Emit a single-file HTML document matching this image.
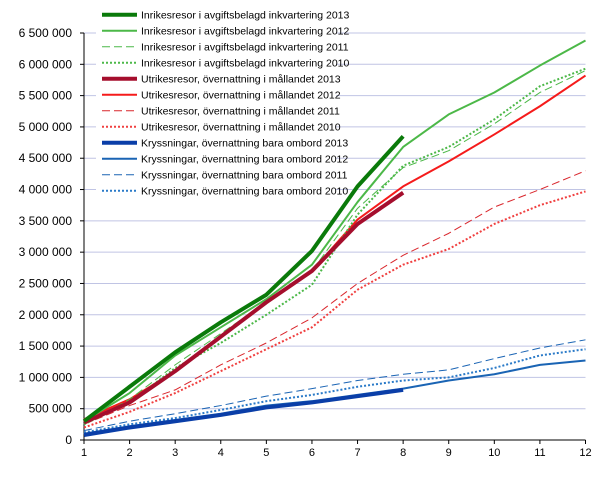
<!DOCTYPE html>
<html><head><meta charset="utf-8"><style>
body{margin:0;background:#fff;}
svg{display:block;font-family:"Liberation Sans",sans-serif;}
</style></head><body>
<svg id="chart" width="614" height="481"></svg>
<script>
const months=[1,2,3,4,5,6,7,8,9,10,11,12];
const yTicks=[0,500000,1000000,1500000,2000000,2500000,3000000,3500000,4000000,4500000,5000000,5500000,6000000,6500000];
const names=["Inrikesresor i avgiftsbelagd inkvartering 2013","Inrikesresor i avgiftsbelagd inkvartering 2012","Inrikesresor i avgiftsbelagd inkvartering 2011","Inrikesresor i avgiftsbelagd inkvartering 2010","Utrikesresor, övernattning i mållandet 2013","Utrikesresor, övernattning i mållandet 2012","Utrikesresor, övernattning i mållandet 2011","Utrikesresor, övernattning i mållandet 2010","Kryssningar, övernattning bara  ombord 2013","Kryssningar, övernattning bara  ombord 2012","Kryssningar, övernattning bara  ombord 2011","Kryssningar, övernattning bara  ombord 2010"];
const inr2013=[0.30,0.85,1.40,1.88,2.32,3.02,4.05,4.85];
const inr2012=[0.30,0.75,1.35,1.80,2.25,2.80,3.80,4.68,5.20,5.55,5.98,6.38];
const inr2011=[0.25,0.65,1.20,1.70,2.20,2.70,3.70,4.35,4.62,5.05,5.55,5.90];
const inr2010=[0.25,0.60,1.15,1.55,2.00,2.48,3.60,4.38,4.68,5.12,5.65,5.93];
const utr2013=[0.28,0.60,1.10,1.65,2.20,2.70,3.45,3.95];
const utr2012=[0.33,0.65,1.10,1.65,2.20,2.70,3.52,4.05,4.45,4.88,5.33,5.82];
const utr2011=[0.25,0.55,0.80,1.20,1.55,1.95,2.50,2.95,3.30,3.72,4.00,4.30];
const utr2010=[0.20,0.45,0.75,1.10,1.45,1.80,2.40,2.80,3.05,3.45,3.75,3.97];
const kry2013=[0.08,0.20,0.30,0.40,0.52,0.60,0.70,0.80];
const kry2012=[0.10,0.22,0.32,0.42,0.55,0.62,0.72,0.82,0.95,1.05,1.20,1.27];
const kry2011=[0.15,0.30,0.42,0.55,0.70,0.82,0.95,1.05,1.12,1.30,1.47,1.60];
const kry2010=[0.12,0.25,0.35,0.48,0.62,0.72,0.85,0.95,1.00,1.15,1.35,1.45];
const series=[inr2013,inr2012,inr2011,inr2010,utr2013,utr2012,utr2011,utr2010,kry2013,kry2012,kry2011,kry2010];
const styles=[
 {c:"#0a7a0a",w:4,d:""},{c:"#4cb848",w:2,d:""},{c:"#4cb848",w:1,d:"8,4"},{c:"#4cb848",w:2,d:"2,2"},
 {c:"#a50e2d",w:4,d:""},{c:"#f51b1b",w:2,d:""},{c:"#d9262c",w:1,d:"8,4"},{c:"#f04040",w:2,d:"2,2"},
 {c:"#0a3ea8",w:4,d:""},{c:"#1a64b4",w:2,d:""},{c:"#1a64b4",w:1,d:"8,4"},{c:"#2a7ac8",w:2,d:"2,2"}];
const X0=84,X1=585.5,Y0=440,Y1=33,YMAX=6500000;
const xs=m=>X0+(m-1)*(X1-X0)/11;
const ys=v=>Y0-v/YMAX*(Y0-Y1);
const svg=document.getElementById('chart');
const NS="http://www.w3.org/2000/svg";
function mk(t,a){const e=document.createElementNS(NS,t);for(const k in a)e.setAttribute(k,a[k]);svg.appendChild(e);return e;}
yTicks.forEach(v=>{
 const y=ys(v);
 if(v>0){const g=mk('line',{x1:X0,x2:X1,y1:y,y2:y,stroke:'#c0c4e4','stroke-width':1});
 
 }
 const tk=mk('line',{x1:X0-4,x2:X0,y1:y,y2:y,stroke:'#000'});
 
 
 const t=mk('text',{x:72,y:y+4,'text-anchor':'end','font-size':12,fill:'#000'});
 t.textContent=v.toLocaleString('en-US').replace(/,/g,' ');
 
 
});
months.forEach(m=>{
 const x=xs(m);
 const tk=mk('line',{x1:x,x2:x,y1:Y0,y2:Y0+4,stroke:'#000'});
 
 
 const t=mk('text',{x:x,y:Y0+16,'text-anchor':'middle','font-size':11,fill:'#000'});
 t.textContent=m;
 
 
});
// legend background
const lb=mk('rect',{x:96,y:5,width:240,height:195,fill:'#fff'});


const ya=mk('line',{x1:X0,x2:X0,y1:Y1,y2:Y0,stroke:'#000'});


const xa=mk('line',{x1:X0,x2:X1,y1:Y0,y2:Y0,stroke:'#000'});


const order=[11,10,9,7,6,5,3,2,1,8,4,0];
order.forEach(i=>{
 const s=styles[i];
 const pts=series[i].map((v,j)=>xs(months[j])+','+ys(v*1e6)).join(' ');
 const p=mk('polyline',{points:pts,fill:'none',stroke:s.c,'stroke-width':s.w,'stroke-dasharray':s.d,'stroke-linejoin':'round'});
 
 
});
names.forEach((n,i)=>{
 const s=styles[i];const y=14.7+i*16;
 const l=mk('line',{x1:102,x2:137,y1:y,y2:y,stroke:s.c,'stroke-width':s.w,'stroke-dasharray':s.d});
 
 
 const t=mk('text',{x:141,y:y+4,'font-size':10.5,fill:'#000'});
 t.textContent=n;
 
 
});
</script>
</body></html>
